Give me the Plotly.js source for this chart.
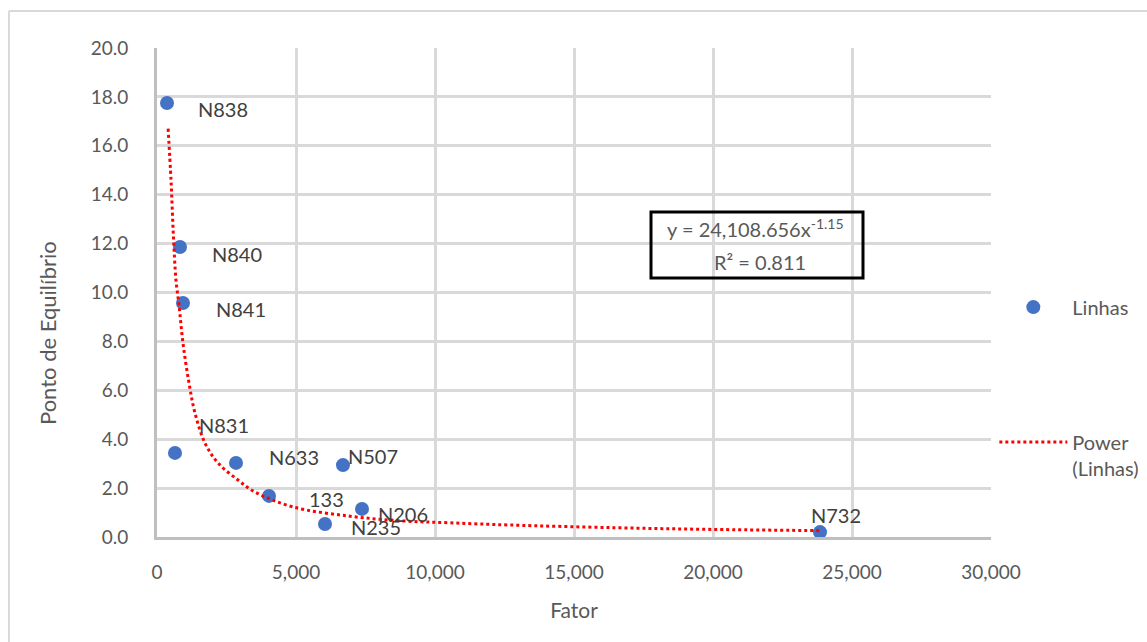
<!DOCTYPE html>
<html>
<head>
<meta charset="utf-8">
<script src="https://cdn.plot.ly/plotly-3.0.1.min.js"></script>
<style>
html,body{margin:0;padding:0;background:#fff;}
#chart{width:1147px;height:642px;}
</style>
</head>
<body>
<div id="chart"></div>
<script>
// Data points (Fator, Ponto de Equilíbrio)
const labels = ["N838","N840","N841","N831","N633","133","N235","N507","N206","N732"];
const fator  = [360, 827, 935, 647, 2842, 4029, 6043, 6690, 7374, 23849];
const ponto  = [17.75, 11.86, 9.57, 3.44, 3.03, 1.68, 0.53, 2.94, 1.15, 0.20];
// Label offsets in pixels (relative to each point)
const labelDx = [56, 57, 58, 49, 58, 57, 51, 30, 41, 16];
const labelDy = [-6, -7, -6, 28, 6, -3, -3, 9, -5, 17];

// Power trendline
const trendX = [400, 504, 587, 683, 791, 935, 1151, 1367, 1727, 2194, 2914, 3525, 4892, 6942, 8800, 10540, 12700, 16475, 20000, 23849];
const trendY = [16.7, 14.6, 12.4, 10.5, 9.49, 7.93, 6.3, 5.07, 3.84, 3.03, 2.33, 1.84, 1.23, 0.85, 0.66, 0.58, 0.49, 0.38, 0.31, 0.26];

const equationLine1 = "y = 24,108.656x<sup>-1.15</sup>";
const equationLine2 = "R² = 0.811";
const xTitle = "Fator";
const yTitle = "Ponto de Equilíbrio";

const FONT = "Lato, 'Open Sans', sans-serif";
const TXT = "#595959";

const traces = [
  {
    x: fator, y: ponto, type: "scatter", mode: "markers", name: "Linhas",
    legendgroup: "a",
    marker: {color: "#4472c4", size: 14}
  },
  {
    x: trendX, y: trendY, type: "scatter", mode: "lines", name: "Power<br>(Linhas)",
    legendgroup: "b",
    line: {color: "#ff0000", width: 3, dash: "dot", shape: "spline"}
  }
];

const annotations = labels.map((t, i) => ({
  x: fator[i], y: ponto[i], xref: "x", yref: "y",
  text: t, showarrow: false,
  xshift: labelDx[i], yshift: labelDy[i],
  font: {family: FONT, size: 20, color: "#404040"}
}));

// plot area: left 157, width 834, top 48, height 489
annotations.push({
  xref: "paper", yref: "paper", x: (755 - 157) / 834, y: (537 - 228) / 489,
  xanchor: "center", yanchor: "middle",
  text: equationLine1, showarrow: false,
  font: {family: FONT, size: 20, color: TXT}
});
annotations.push({
  xref: "paper", yref: "paper", x: (760 - 157) / 834, y: (537 - 262) / 489,
  xanchor: "center", yanchor: "middle",
  text: equationLine2, showarrow: false,
  font: {family: FONT, size: 20, color: TXT}
});
// y-axis title (placed as in the reference, below the plot centre)
annotations.push({
  xref: "paper", yref: "paper", x: (47 - 157) / 834, y: (537 - 333) / 489,
  xanchor: "center", yanchor: "middle", textangle: -90,
  text: yTitle, showarrow: false,
  font: {family: FONT, size: 22, color: TXT}
});

const layout = {
  width: 1147, height: 642,
  margin: {l: 157, r: 156, t: 48, b: 105, autoexpand: false},
  paper_bgcolor: "#fff", plot_bgcolor: "#fff",
  font: {family: FONT, size: 19, color: TXT},
  xaxis: {
    range: [0, 30000], dtick: 5000, tick0: 0, tickformat: ",d",
    showgrid: true, gridcolor: "#d9d9d9", gridwidth: 3,
    showline: true, linecolor: "#bfbfbf", linewidth: 3,
    zeroline: false, ticks: "", ticklen: 0, ticklabelstandoff: 16,
    automargin: false,
    tickfont: {family: FONT, size: 19, color: TXT},
    title: {text: xTitle, font: {family: FONT, size: 21, color: TXT}, standoff: 22}
  },
  yaxis: {
    range: [0, 20], dtick: 2, tick0: 0, tickformat: ".1f",
    showgrid: true, gridcolor: "#d9d9d9", gridwidth: 3,
    showline: true, linecolor: "#bfbfbf", linewidth: 3,
    zeroline: false, ticks: "", ticklen: 0, ticklabelstandoff: 22,
    automargin: false,
    tickfont: {family: FONT, size: 19, color: TXT}
  },
  showlegend: true,
  legend: {
    x: 1.004, y: 0.51, xanchor: "left", yanchor: "top",
    tracegroupgap: 106, valign: "top",
    font: {family: FONT, size: 20, color: TXT},
    bgcolor: "rgba(0,0,0,0)", itemwidth: 68
  },
  annotations: annotations,
  shapes: [
    {type: "rect", xref: "paper", yref: "paper",
     x0: (651 - 157) / 834, x1: (863 - 157) / 834, y0: (537 - 278) / 489, y1: (537 - 212) / 489,
     line: {color: "#000", width: 3}, fillcolor: "rgba(0,0,0,0)"},
    {type: "line", xref: "paper", yref: "paper", x0: -0.1775, x1: -0.1775, y0: 1.0757, y1: -0.25,
     line: {color: "#d9d9d9", width: 2}},
    {type: "line", xref: "paper", yref: "paper", x0: -0.1775, x1: 1.2, y0: 1.0757, y1: 1.0757,
     line: {color: "#d9d9d9", width: 2}}
  ]
};

Plotly.newPlot("chart", traces, layout, {displayModeBar: false, staticPlot: true});
</script>
</body>
</html>
